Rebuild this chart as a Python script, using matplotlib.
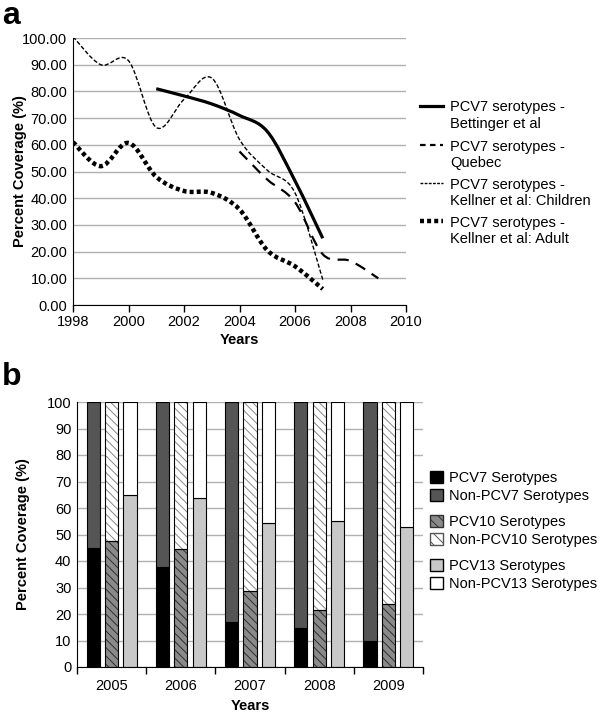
import numpy as np
import matplotlib
matplotlib.use("Agg")
import matplotlib.pyplot as plt
from matplotlib.lines import Line2D
from matplotlib.patches import Patch, PathPatch
from matplotlib.path import Path

plt.rcParams["font.family"] = ["Liberation Sans", "DejaVu Sans"]
plt.rcParams["font.size"] = 10.5
plt.rcParams["hatch.linewidth"] = 0.7

# ---------------- Panel a data ----------------
bett_years = [2001, 2002, 2003, 2004, 2005, 2006, 2007]
bett_vals = [81.0, 78.3, 75.3, 71.0, 65.0, 46.5, 25.0]

quebec_years = [2004, 2005, 2006, 2007, 2008, 2009]
quebec_vals = [57.5, 47.0, 38.5, 19.0, 16.5, 10.0]

child_years = [1998, 1999, 2000, 2001, 2002, 2003, 2004, 2005, 2006, 2007]
child_vals = [100.5, 90.0, 91.5, 66.5, 77.0, 85.0, 62.0, 50.5, 42.0, 9.5]

adult_years = [1998, 1999, 2000, 2001, 2002, 2003, 2004, 2005, 2006, 2007]
adult_vals = [61.0, 52.0, 60.7, 48.0, 42.7, 42.0, 35.8, 20.5, 14.5, 6.0]

# ---------------- Panel b data ----------------
years_b = ["2005", "2006", "2007", "2008", "2009"]
pcv7 = [44.8, 37.6, 17.0, 14.6, 9.7]
non_pcv7 = [55.2, 62.4, 83.0, 85.4, 90.3]
pcv10 = [47.7, 44.4, 28.5, 21.4, 23.8]
non_pcv10 = [52.3, 55.6, 71.5, 78.6, 76.2]
pcv13 = [64.9, 63.6, 54.2, 55.2, 52.7]
non_pcv13 = [35.1, 36.4, 45.8, 44.8, 47.3]


def smooth_line(ax, xs, ys, **kw):
    # Excel-style smoothed line: bezier segments through the data points
    pts = np.column_stack([xs, ys]).astype(float)
    n = len(pts)
    verts = [pts[0]]
    codes = [Path.MOVETO]
    for i in range(n - 1):
        p0 = pts[i - 1] if i > 0 else pts[i]
        p1, p2 = pts[i], pts[i + 1]
        p3 = pts[i + 2] if i + 2 < n else pts[i + 1]
        verts += [p1 + (p2 - p0) / 6, p2 - (p3 - p1) / 6, p2]
        codes += [Path.CURVE4] * 3
    ax.add_patch(PathPatch(Path(verts, codes), fill=False, **kw))


fig = plt.figure(figsize=(6, 7.12), dpi=100)

# ---------------- Panel a ----------------
ax = fig.add_axes([73 / 600, 1 - 305 / 712, 333 / 600, 267 / 712])
smooth_line(ax, bett_years, bett_vals, edgecolor="black", lw=2.3, capstyle="butt")
smooth_line(ax, quebec_years, quebec_vals, edgecolor="black", lw=1.6,
            linestyle=(0, (5, 3.5)))
smooth_line(ax, child_years, child_vals, edgecolor="black", lw=1.0,
            linestyle=(0, (3, 1.5)))
smooth_line(ax, adult_years, adult_vals, edgecolor="black", lw=3.2,
            linestyle=(0, (0.9, 0.7)), capstyle="butt")

ax.set_xlim(1998, 2010)
ax.set_ylim(0, 100)
ax.set_xticks(range(1998, 2011, 2))
ax.set_yticks(np.arange(0, 101, 10))
ax.set_yticklabels([f"{v:.2f}" for v in np.arange(0, 101, 10)])
ax.yaxis.grid(True, color="#b0b0b0", lw=1)
ax.set_axisbelow(True)
for s in ["top", "right"]:
    ax.spines[s].set_visible(False)
ax.tick_params(axis="x", length=5, width=1, pad=2)
ax.tick_params(axis="y", length=0, pad=4)
ax.set_xlabel("Years", fontweight="bold", labelpad=3)
ax.set_ylabel("Percent Coverage (%)", fontweight="bold")
ax.yaxis.set_label_coords((27 - 73) / 333, 0.5)

series_a = [
    (Line2D([], [], color="black", lw=2.3), "Bettinger et al", 100.5),
    (Line2D([], [], color="black", lw=1.6, dashes=(2.5, 2)), "Quebec", 139.5),
    (Line2D([], [], color="black", lw=1.0, dashes=(2, 1)), "Kellner et al: Children", 177.5),
    (Line2D([], [], color="black", lw=3.2, dashes=(0.9, 0.7), dash_capstyle="butt"),
     "Kellner et al: Adult", 215.5),
]
for h, second, ytop in series_a:
    fig.legend([h, Line2D([], [], color="none")], ["PCV7 serotypes -", second],
               loc="upper left", bbox_to_anchor=(420 / 600, 1 - ytop / 712),
               frameon=False, handlelength=1.6, handletextpad=0.45,
               labelspacing=0.2, borderpad=0, borderaxespad=0)

fig.text(2 / 600, 1 - 1 / 712, "a", fontsize=23, fontweight="bold", va="top")

# ---------------- Panel b ----------------
bx = fig.add_axes([77 / 600, 1 - 667 / 712, 346 / 600, 265 / 712])
x = np.arange(len(years_b))
w = 0.19
off = 0.265

bx.bar(x - off, pcv7, w, color="black", edgecolor="black", lw=0.8)
bx.bar(x - off, non_pcv7, w, bottom=pcv7, color="#555555", edgecolor="black", lw=0.8)

bx.bar(x, pcv10, w, color="#8a8a8a", edgecolor="#303030", hatch="\\\\\\\\", lw=0)
bx.bar(x, non_pcv10, w, bottom=pcv10, color="white", edgecolor="#888888",
       hatch="\\\\\\\\", lw=0)
bx.bar(x, pcv10, w, fill=False, edgecolor="black", lw=0.8)
bx.bar(x, non_pcv10, w, bottom=pcv10, fill=False, edgecolor="black", lw=0.8)

bx.bar(x + off, pcv13, w, color="#c8c8c8", edgecolor="black", lw=0.8)
bx.bar(x + off, non_pcv13, w, bottom=pcv13, color="white", edgecolor="black", lw=0.8)

bx.set_xlim(-0.5, len(years_b) - 0.5)
bx.set_ylim(0, 100)
bx.set_yticks(np.arange(0, 101, 10))
bx.set_xticks(x)
bx.set_xticklabels(years_b)
bx.set_xticks(np.arange(-0.5, len(years_b), 1), minor=True)
bx.tick_params(axis="x", which="major", length=0, pad=9)
bx.tick_params(axis="x", which="minor", length=5, width=1)
bx.tick_params(axis="y", length=0, pad=4)
bx.yaxis.grid(True, color="#b0b0b0", lw=1)
bx.set_axisbelow(True)
for s in ["top", "right"]:
    bx.spines[s].set_visible(False)
bx.set_xlabel("Years", fontweight="bold", labelpad=4)
bx.set_ylabel("Percent Coverage (%)", fontweight="bold")
bx.yaxis.set_label_coords((30 - 77) / 346, 0.5)

leg_kw = dict(loc="upper left", frameon=False, handlelength=0.9, handleheight=0.9,
              handletextpad=0.4, labelspacing=0.25, borderpad=0, borderaxespad=0)
groups = [
    ([Patch(facecolor="black", edgecolor="black"),
      Patch(facecolor="#555555", edgecolor="black")],
     ["PCV7 Serotypes", "Non-PCV7 Serotypes"], 471),
    ([Patch(facecolor="#8a8a8a", edgecolor="#303030", hatch="\\\\\\"),
      Patch(facecolor="white", edgecolor="#555555", hatch="\\\\\\")],
     ["PCV10 Serotypes", "Non-PCV10 Serotypes"], 515),
    ([Patch(facecolor="#c8c8c8", edgecolor="black"),
      Patch(facecolor="white", edgecolor="black")],
     ["PCV13 Serotypes", "Non-PCV13 Serotypes"], 559),
]
for h, l, ytop in groups:
    fig.legend(h, l, bbox_to_anchor=(430 / 600, 1 - ytop / 712), **leg_kw)

fig.text(2 / 600, 1 - 362 / 712, "b", fontsize=23, fontweight="bold", va="top")

fig.savefig("out.png", dpi=100)
